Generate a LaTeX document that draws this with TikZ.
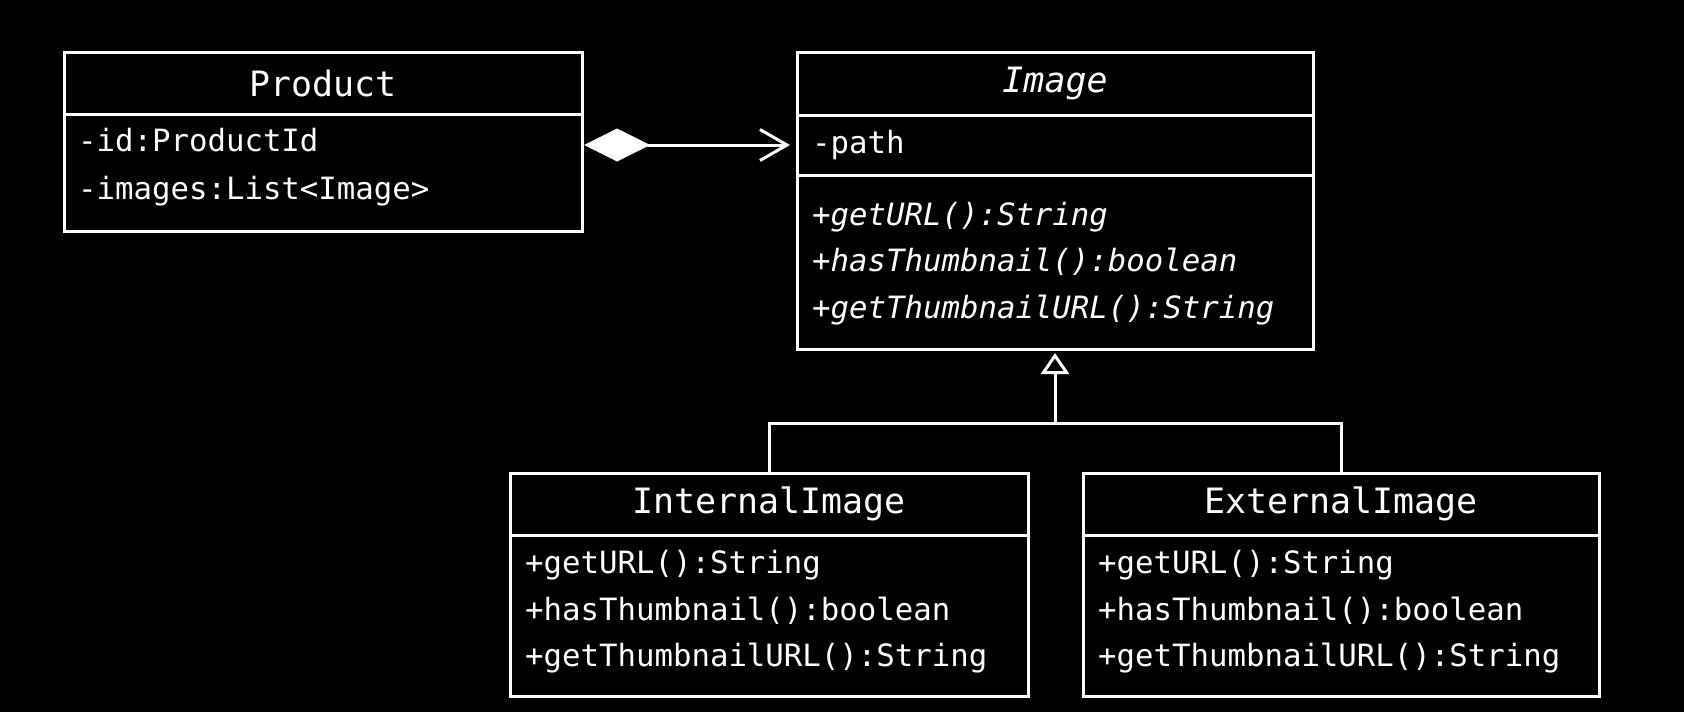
\documentclass[tikz,border=0pt]{standalone}
\usepackage{fontspec}
\usetikzlibrary{arrows.meta}
\newfontfamily\umlfont{DejaVu Sans Mono}
\begin{document}
\begin{tikzpicture}[x=1pt,y=-1pt,
  box/.style={draw=white,line width=3pt,anchor=north west,inner sep=0pt,outer sep=0pt,text=white},
  titlefont/.style={font=\umlfont\fontsize{34.9}{40}\selectfont},
  line/.style={anchor=west,inner sep=0pt,text=white,font=\umlfont\fontsize{30.7}{36}\selectfont,text height=0.75em,text depth=0.25em,yshift=-8pt},
  iline/.style={line,font=\umlfont\itshape\fontsize{30.7}{36}\selectfont},
  conn/.style={draw=white,line width=3pt}]
\fill[black] (0,0) rectangle (1684,712);
\useasboundingbox (0,0) rectangle (1684,712);
% Product
\node[box,titlefont,minimum width=518pt,minimum height=62pt] (prodT) at (64,52) {Product};
\node[box,minimum width=518pt,minimum height=117pt] (prodA) at (64,114) {};
\node[line] (prod1) at (78,141) {-id:ProductId};
\node[line] (prod2) at (78,189) {-images:List<Image>};
% Image
\node[box,titlefont,font=\umlfont\itshape\fontsize{34.9}{40}\selectfont,minimum width=516pt,minimum height=63pt] (imgT) at (797,52) {Image};
\node[box,minimum width=516pt,minimum height=60pt] (imgA) at (797,115) {};
\node[box,minimum width=516pt,minimum height=174pt] (imgM) at (797,175) {};
\node[line] (img1) at (812,143) {-path};
\node[iline] (img2) at (812,215) {+getURL():String};
\node[iline] (img3) at (812,261) {+hasThumbnail():boolean};
\node[iline] (img4) at (812,308) {+getThumbnailURL():String};
% InternalImage
\node[box,titlefont,minimum width=518pt,minimum height=62pt] (intT) at (510,473) {InternalImage};
\node[box,minimum width=518pt,minimum height=161pt] (intM) at (510,535) {};
\node[line] (int1) at (525,563) {+getURL():String};
\node[line] (int2) at (525,610) {+hasThumbnail():boolean};
\node[line] (int3) at (525,656) {+getThumbnailURL():String};
% ExternalImage
\node[box,titlefont,minimum width=516pt,minimum height=62pt] (extT) at (1083,473) {ExternalImage};
\node[box,minimum width=516pt,minimum height=161pt] (extM) at (1083,535) {};
\node[line] (ext1) at (1098,563) {+getURL():String};
\node[line] (ext2) at (1098,610) {+hasThumbnail():boolean};
\node[line] (ext3) at (1098,656) {+getThumbnailURL():String};
% composition
\draw[conn,{Diamond[fill=white,length=66pt,width=33pt]}-{Straight Barb[length=27pt,width=31pt]},shorten <=2pt,shorten >=7pt]
  (prodA.east |- imgA.west) -- (imgA.west);
% generalization
\coordinate (bar) at ([yshift=-74pt]imgM.south);
\draw[conn] (intT.north) |- (bar) -| (extT.north);
\draw[conn,-{Triangle[open,fill=black,length=21pt,width=28pt]},shorten >=4pt] (bar) -- (imgM.south);
\end{tikzpicture}
\end{document}
